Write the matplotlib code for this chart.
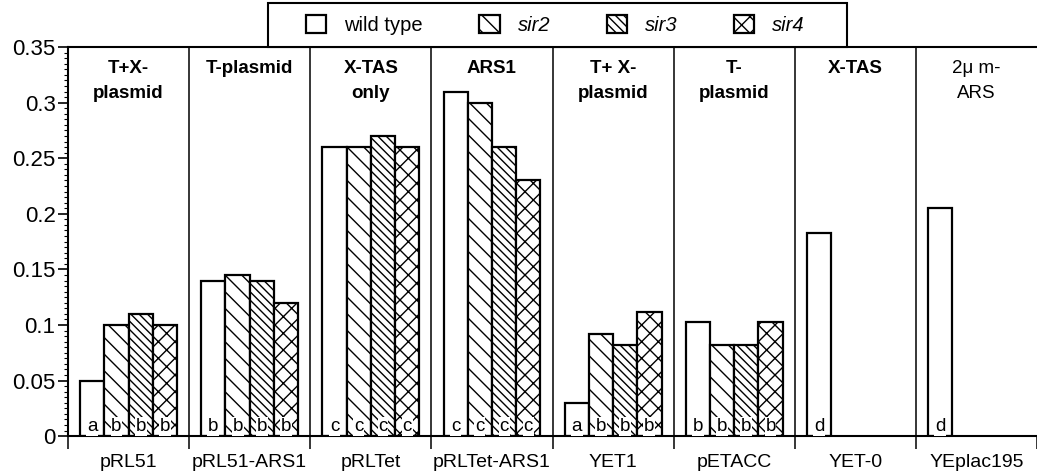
#!/usr/bin/env python3
# -*- coding: utf-8 -*-
"""
Grouped bar chart: plasmid stability in wild type and sir mutants
"""

import numpy as np
import matplotlib
matplotlib.use('Agg')
import matplotlib.pyplot as plt
from matplotlib.patches import Patch, Rectangle
from matplotlib.ticker import MultipleLocator

plt.rcParams['font.family'] = ['Liberation Sans', 'DejaVu Sans']
plt.rcParams['hatch.linewidth'] = 1.0

############### data ###############
plasmids = ['pRL51', 'pRL51-ARS1', 'pRLTet', 'pRLTet-ARS1',
            'YET1', 'pETACC', 'YET-0', 'YEplac195']
titles = ['T+X-\nplasmid', 'T-plasmid', 'X-TAS\nonly', 'ARS1',
          'T+ X-\nplasmid', 'T-\nplasmid', 'X-TAS', '2\u03bc m-\nARS']
strains = ['wild type', 'sir2', 'sir3', 'sir4']

wild_type = [0.05, 0.14, 0.26, 0.31, 0.03, 0.103, 0.183, 0.205]
sir2 = [0.10, 0.145, 0.26, 0.30, 0.092, 0.082, np.nan, np.nan]
sir3 = [0.11, 0.14, 0.27, 0.26, 0.082, 0.082, np.nan, np.nan]
sir4 = [0.10, 0.12, 0.26, 0.23, 0.112, 0.103, np.nan, np.nan]

letters_wt = ['a', 'b', 'c', 'c', 'a', 'b', 'd', 'd']
letters_sir2 = ['b', 'b', 'c', 'c', 'b', 'b', '', '']
letters_sir3 = ['b', 'b', 'c', 'c', 'b', 'b', '', '']
letters_sir4 = ['b', 'b', 'c', 'c', 'b', 'b', '', '']

series = [wild_type, sir2, sir3, sir4]
letters = [letters_wt, letters_sir2, letters_sir3, letters_sir4]
hatches = ['', '\\\\', '\\\\\\\\', 'xx']

############### plot ###############
fig = plt.figure(figsize=(10.37, 4.73), dpi=100)
ax = fig.add_axes([0.0656, 0.078, 0.9344, 0.8224])

n = len(plasmids)
centers = np.arange(n) + 0.5
width = 0.2

for k, vals in enumerate(series):
    xs = centers + (k - 1.5) * width
    for x, v, lab in zip(xs, vals, letters[k]):
        if np.isnan(v):
            continue
        ax.bar(x, v, width=width, facecolor='white', edgecolor='black',
               linewidth=1.6, hatch=hatches[k], zorder=2)
        if lab:
            ax.text(x, 0.0085, lab, ha='center', va='center', fontsize=13.5,
                    zorder=4,
                    bbox=dict(facecolor='white', edgecolor='none', pad=0.5))

# group separators
for b in range(1, n):
    ax.axvline(b, color='black', linewidth=1.1, zorder=1)

# group titles
for c, t in zip(centers, titles):
    bold = not t.startswith('2')
    ax.text(c, 0.338, t, ha='center', va='top', fontsize=13.5,
            fontweight='bold' if bold else 'normal', linespacing=1.55)

ax.set_xlim(0, 969 / 122)
ax.set_ylim(0, 0.35)

ax.set_xticks(np.arange(0, n + 1))
ax.set_xticklabels([])
ax.set_xticks(centers, minor=True)
ax.set_xticklabels(plasmids, minor=True, fontsize=14)
ax.tick_params(axis='x', which='major', direction='out', length=9, width=1.1)
ax.tick_params(axis='x', which='minor', length=0, pad=13)

ax.yaxis.set_major_locator(MultipleLocator(0.05))
ax.yaxis.set_minor_locator(MultipleLocator(0.005))
ax.set_yticks([0, 0.05, 0.1, 0.15, 0.2, 0.25, 0.3, 0.35])
ax.set_yticklabels(['0', '0.05', '0.1', '0.15', '0.2', '0.25', '0.3', '0.35'],
                   fontsize=16)
ax.tick_params(axis='y', which='major', direction='out', length=7, width=1.2,
               pad=2)
ax.tick_params(axis='y', which='minor', direction='out', length=3, width=0.8)

for s in ['left', 'bottom', 'top']:
    ax.spines[s].set_linewidth(1.5)
ax.spines['right'].set_visible(False)

# legend box sits on top of the axes
fig.patches.append(Rectangle((0.2584, 0.9006), 0.5583, 0.093,
                             transform=fig.transFigure, facecolor='white',
                             edgecolor='black', linewidth=1.5, zorder=5))
handles = [Patch(facecolor='white', edgecolor='black', linewidth=1.6, hatch=h)
           for h in hatches]
leg = fig.legend(handles, strains, ncol=4, loc='center',
                 bbox_to_anchor=(0.5357, 0.947), frameon=False, fontsize=14.5,
                 handlelength=1.0, handleheight=1.0, borderpad=0.2,
                 columnspacing=2.8, handletextpad=0.9)
for t in leg.get_texts()[1:]:
    t.set_style('italic')

fig.savefig('out.png', dpi=100)
